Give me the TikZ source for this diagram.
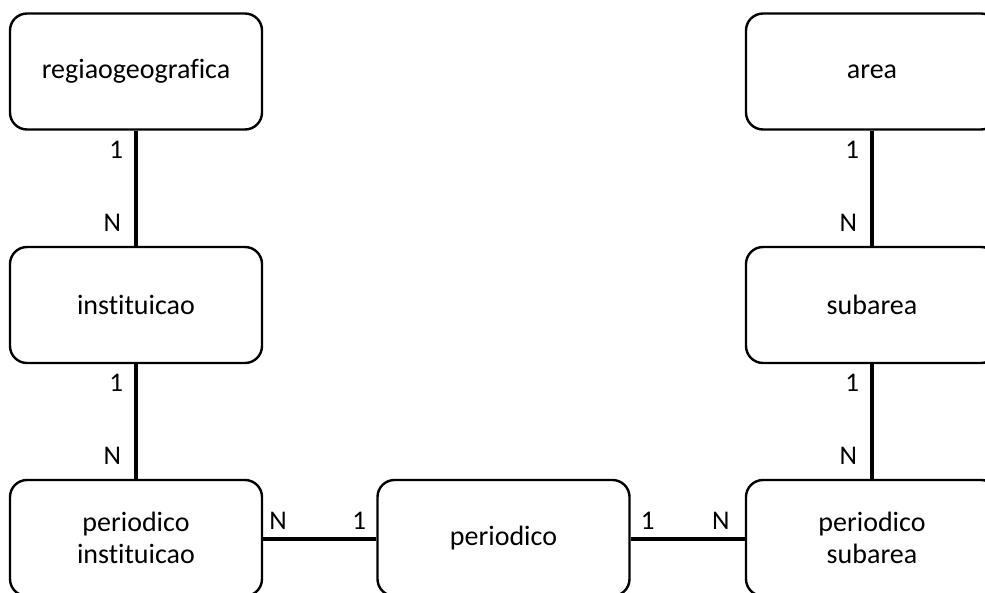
\documentclass[tikz,border=0pt]{standalone}
\usepackage{fontspec}
\setmainfont{Carlito}[Ligatures={NoCommon,NoRequired,NoContextual}]
\begin{document}
\begin{tikzpicture}[x=1pt,y=-1pt,
  ent/.style={draw=black, line width=2.4pt, rounded corners=17pt, fill=white,
    minimum width=252pt, minimum height=116pt, align=center,
    font=\fontsize{28}{32}\selectfont, text=black},
  conn/.style={line width=4pt, draw=black},
  card/.style={font=\fontsize{27}{32}\selectfont, inner sep=3pt, text=black}]
\useasboundingbox (0,0) rectangle (985,592);
\clip (0,0) rectangle (985,592);
\node[ent] (rg) at (136,71.5) {regiaogeografica};
\node[ent] (ins) at (136,305) {instituicao};
\node[ent] (pi) at (136,538) {periodico\\instituicao};
\node[ent] (p) at (503.5,538) {periodico};
\node[ent] (ar) at (872,71.5) {area};
\node[ent] (sa) at (872,305) {subarea};
\node[ent] (ps) at (872,538) {periodico\\subarea};
% vertical connectors
\foreach \a/\b in {rg/ins, ins/pi, ar/sa, sa/ps}{
  \draw[conn] (\a.south) -- (\b.north)
    node[card, at start, anchor=north east, xshift=-8pt, yshift=-5pt] {1}
    node[card, at end, anchor=south east, xshift=-10pt, yshift=9pt] {N};
}
% horizontal connectors
\draw[conn] (pi.east |- 0,539) coordinate (pie) -- (p.west |- 0,539) coordinate (pw);
\node[card, anchor=south west] at ([xshift=3pt,yshift=6pt]pie) {N};
\node[card, anchor=south east] at ([xshift=-7pt,yshift=6pt]pw) {1};
\draw[conn] (p.east |- 0,539) coordinate (pe) -- (ps.west |- 0,539) coordinate (psw);
\node[card, anchor=south west] at ([xshift=7pt,yshift=6pt]pe) {1};
\node[card, anchor=south east] at ([xshift=-12pt,yshift=6pt]psw) {N};
\end{tikzpicture}
\end{document}
